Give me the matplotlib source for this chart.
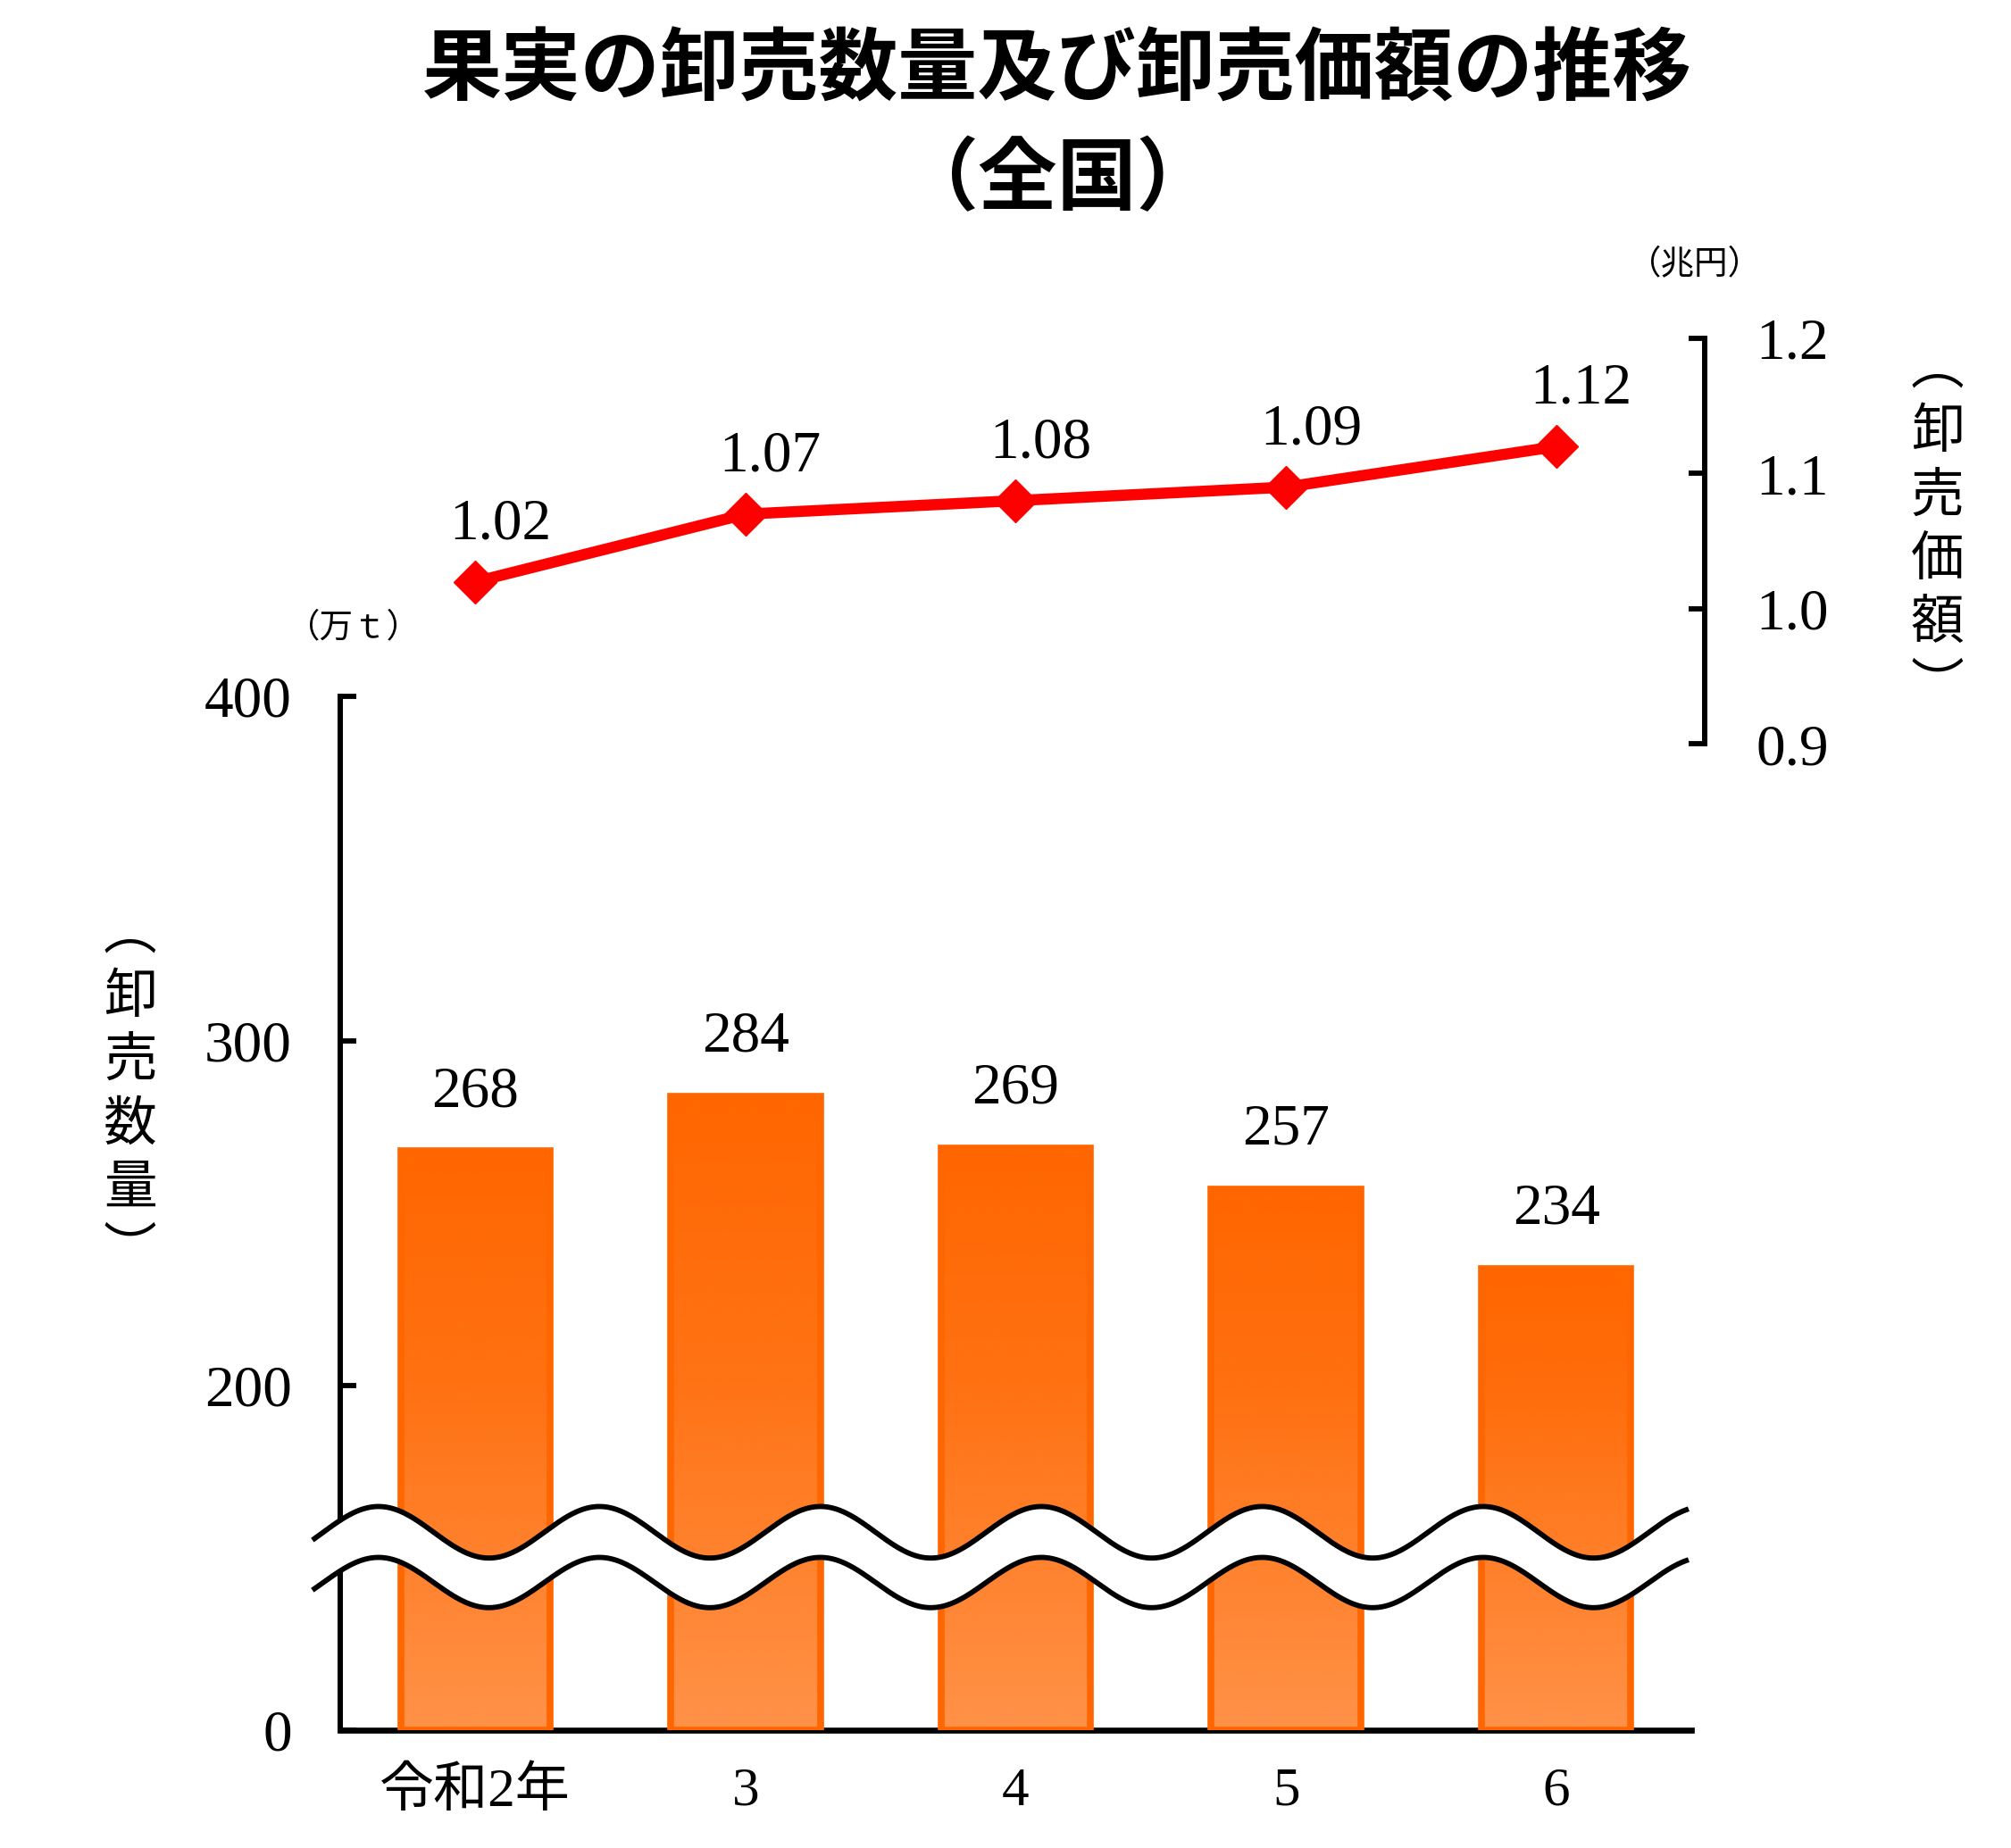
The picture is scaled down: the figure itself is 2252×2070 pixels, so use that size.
import numpy as np
import matplotlib
matplotlib.use("Agg")
import matplotlib.pyplot as plt
from matplotlib.colors import LinearSegmentedColormap

# ---------------- data ----------------
years = ["令和2年", "3", "4", "5", "6"]
volume = [268, 284, 269, 257, 234]          # 卸売数量 (万t)
value = [1.02, 1.07, 1.08, 1.09, 1.12]      # 卸売価額 (兆円)
vol_ticks = [0, 200, 300, 400]
val_ticks = [0.9, 1.0, 1.1, 1.2]

title1 = "果実の卸売数量及び卸売価額の推移"
title2 = "（全国）"

# broken axis: the 0..200 part is compressed to half
BREAK_HI = 200


def fwd(v):
    v = np.asarray(v, dtype=float)
    return np.where(v >= BREAK_HI, v, 100 + v * 0.5)


def inv(p):
    p = np.asarray(p, dtype=float)
    return np.where(p >= BREAK_HI, p, (p - 100) * 2.0)


SERIF = ["Liberation Serif", "Noto Sans CJK JP"]
JP = ["Noto Sans CJK JP", "DejaVu Sans"]

plt.rcParams["font.family"] = SERIF

W, H = 1560.0, 1434.0  # reference display coordinate frame

fig = plt.figure(figsize=(22.52, 20.70), dpi=100)

# --------------- main bar axes ---------------
ax_l, ax_r = 263.9 / W, 1312 / W
ax_b, ax_t = 1 - 1342.3 / H, 1 - 540.4 / H
ax = fig.add_axes([ax_l, ax_b, ax_r - ax_l, ax_t - ax_b])
ax.set_yscale("function", functions=(fwd, inv))

x = np.arange(len(years))
bar_w = 0.553
bars = ax.bar(x, volume, width=bar_w, facecolor="none", edgecolor="#FF6600",
              linewidth=5.5, zorder=3)

cmap = LinearSegmentedColormap.from_list("og", ["#FF9248", "#FF6600"])
grad = np.linspace(0, 1, 256).reshape(-1, 1)
for rect, xi, v in zip(bars, x, volume):
    im = ax.imshow(grad, cmap=cmap, aspect="auto", origin="lower",
                   extent=[xi - bar_w / 2, xi + bar_w / 2, 0, v],
                   zorder=2, interpolation="bicubic")
    im.set_clip_path(rect)
    ax.annotate(str(v), (xi, v), xytext=(0, 36), textcoords="offset points",
                ha="center", va="baseline", fontsize=47, family=SERIF)
ax.set_xlim(-0.5, 4.5)
ax.set_ylim(0, 400)

for s in ["top", "right"]:
    ax.spines[s].set_visible(False)
ax.spines["left"].set_linewidth(4.3)
ax.spines["bottom"].set_linewidth(4.8)
ax.set_yticks(vol_ticks, [str(t) for t in vol_ticks])
ax.tick_params(axis="y", direction="in", length=13, width=4.2, pad=39,
               labelsize=47)
ax.set_xticks(x, years)
ax.tick_params(axis="x", length=0, pad=30, labelsize=44)
for lab in ax.get_xticklabels():
    lab.set_family(SERIF)

# wavy break mark (decoration, axes-fraction coordinates)
ax_w = 1312 - 263.9
ax_h = 1342.3 - 540.4
xs = np.linspace((244 - 263.9) / ax_w, (1308 - 263.9) / ax_w, 900)
period = 171.4 / ax_w
phase = (465 - 263.9) / ax_w
wave = np.cos(2 * np.pi * (xs - phase) / period)
y_up = (1342.3 - 1189) / ax_h + (20 / ax_h) * wave
y_lo = (1342.3 - 1228) / ax_h + (19.5 / ax_h) * wave
ax.fill_between(xs, y_lo, y_up, transform=ax.transAxes, color="white",
                zorder=5, clip_on=False, linewidth=0)
ax.plot(xs, y_up, transform=ax.transAxes, color="black", lw=4.2,
        zorder=6, clip_on=False)
ax.plot(xs, y_lo, transform=ax.transAxes, color="black", lw=4.2,
        zorder=6, clip_on=False)

# --------------- line axes ---------------
l_b, l_t = 1 - 577.3 / H, 1 - 262.6 / H
ax2 = fig.add_axes([ax_l, l_b, ax_r - ax_l, l_t - l_b])
ax2.set_xlim(-0.5, 4.5)
ax2.set_ylim(0.9, 1.2)
ax2.patch.set_alpha(0)
for s in ["top", "left", "bottom"]:
    ax2.spines[s].set_visible(False)
ax2.spines["right"].set_position(("outward", 11))
ax2.spines["right"].set_linewidth(4.3)
ax2.yaxis.tick_right()
ax2.set_yticks(val_ticks, [f"{t:.1f}" for t in val_ticks])
ax2.tick_params(axis="y", direction="in", length=13, width=4.2, pad=41,
                labelsize=47)
ax2.set_xticks([])
ax2.plot(x, value, color="#FF0000", lw=9, marker="D", markersize=24,
         clip_on=False, zorder=3)
for xi, v in zip(x, value):
    ax2.annotate(f"{v:.2f}", (xi, v), xytext=(20, 35),
                 textcoords="offset points", ha="center", va="baseline",
                 fontsize=47, family=SERIF)

# --------------- texts ---------------
fig.text(820 / W, 1 - 55 / H, title1, ha="center", va="center",
         fontsize=64, fontweight="bold", family=JP)
fig.text(820 / W, 1 - 140 / H, title2, ha="center", va="center",
         fontsize=64, fontweight="bold", family=JP)

fig.text(1315 / W, 1 - 205 / H, "（兆円）", ha="center", va="center",
         fontsize=27, family=JP)
fig.text(274 / W, 1 - 487 / H, "（万ｔ）", ha="center", va="center",
         fontsize=27, family=JP)

fig.text(101 / W, 1 - 848 / H, "︵\n卸\n売\n数\n量\n︶", ha="center",
         va="center", fontsize=43, family=JP, linespacing=1.22)
fig.text(1503 / W, 1 - 410 / H, "︵\n卸\n売\n価\n額\n︶", ha="center",
         va="center", fontsize=43, family=JP, linespacing=1.22)

fig.savefig("out.png", dpi=100, facecolor="white")
